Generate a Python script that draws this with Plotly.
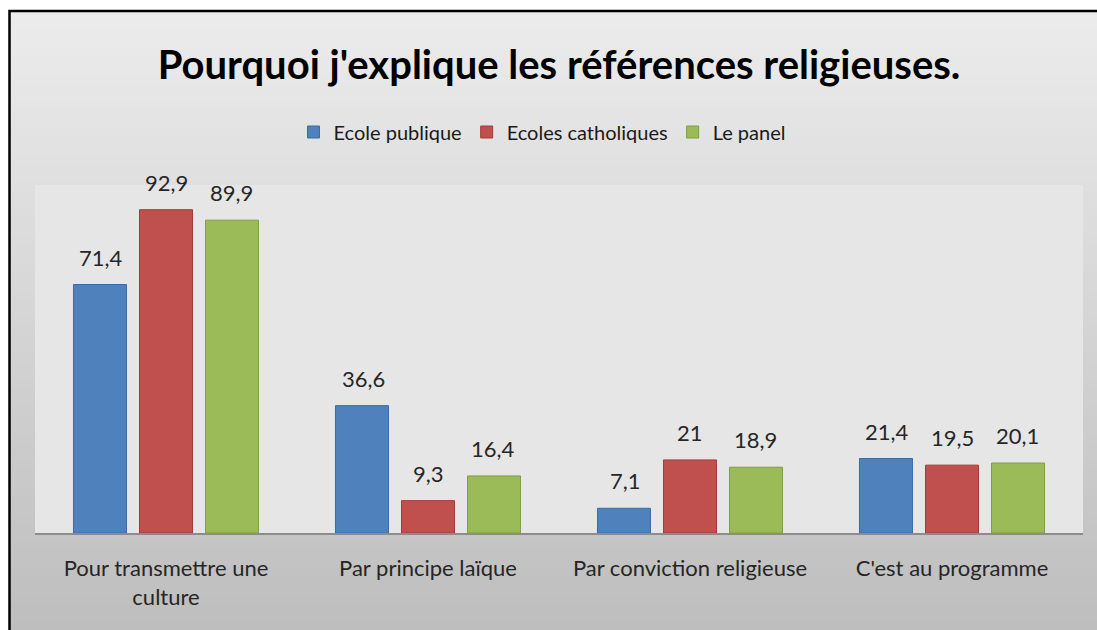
import plotly.graph_objects as go

categories = ["Pour transmettre une<br>culture", "Par principe laïque",
              "Par conviction religieuse", "C'est au programme"]
series_names = ["Ecole publique", "Ecoles catholiques", "Le panel"]
ecole_publique = [71.4, 36.6, 7.1, 21.4]
ecoles_catholiques = [92.9, 9.3, 21.0, 19.5]
le_panel = [89.9, 16.4, 18.9, 20.1]
title_text = "Pourquoi j'explique les références religieuses."

fills = ["#4F81BD", "#C0504D", "#9BBB59"]
lines = ["#3A6BA5", "#A23C39", "#7E9E44"]
FONT = "Lato"

W, H = 1097, 630
ML, MR, MT, MB = 35, 14, 185, 97
pw, ph = W - ML - MR, H - MT - MB

def px2x(px):
    return (px - ML) / pw

def py2y(py):
    return (H - MB - py) / ph

fig = go.Figure()
all_series = [ecole_publique, ecoles_catholiques, le_panel]
for name, vals, fc, lc in zip(series_names, all_series, fills, lines):
    fig.add_trace(go.Bar(
        x=categories, y=vals, name=name,
        marker=dict(color=fc, line=dict(color=lc, width=1)),
        hoverinfo="skip",
    ))

def fmt(v):
    return f"{v:g}".replace(".", ",")

offsets = [-65, 0, 65]
annotations = []
for vals, off in zip(all_series, offsets):
    for c, v in zip(categories, vals):
        annotations.append(dict(
            x=c, y=v, xref="x", yref="y", text=fmt(v), showarrow=False,
            xshift=off, yshift=12, yanchor="bottom",
            font=dict(family=FONT, size=22, color="#262626"),
        ))

shapes = []
# outer gradient background (stacked bands, each reaching the bottom to avoid seams)
n = 70
top_px, bot_px = 11, 640
c0, c1 = 236, 189
for i in range(n):
    y0p = top_px + (bot_px - top_px) * i / n
    g = round(c0 + (c1 - c0) * (i + 0.5) / n)
    col = f"rgb({g},{g},{g})"
    shapes.append(dict(type="rect", xref="paper", yref="paper", layer="below",
                       x0=px2x(10), x1=px2x(1110), y0=py2y(bot_px), y1=py2y(y0p),
                       fillcolor=col, line=dict(width=0)))
# plot area
shapes.append(dict(type="rect", xref="paper", yref="paper", layer="below",
                   x0=0, x1=1, y0=0, y1=1, fillcolor="#E6E6E6", line=dict(width=0)))
# border
shapes.append(dict(type="rect", xref="paper", yref="paper", layer="above",
                   x0=px2x(9.5), x1=px2x(1120), y0=py2y(660), y1=py2y(11),
                   fillcolor="rgba(0,0,0,0)", line=dict(color="#000000", width=2.5)))

fig.update_layout(
    width=W, height=H,
    margin=dict(l=ML, r=MR, t=MT, b=MB),
    paper_bgcolor="#FFFFFF",
    plot_bgcolor="rgba(0,0,0,0)",
    barmode="group", bargap=0.244, bargroupgap=0.197,
    separators=",.",
    title=dict(text="<b>" + title_text + "</b>", x=0.5, xref="paper", xanchor="center",
               y=1 - 65 / H, yanchor="middle", yref="container",
               font=dict(family=FONT, size=40, color="#000000")),
    legend=dict(orientation="h", x=px2x(542), xanchor="center", y=py2y(132), yanchor="middle",
                bgcolor="rgba(0,0,0,0)", font=dict(family=FONT, size=20, color="#1a1a1a"),
                itemwidth=30, traceorder="normal"),
    xaxis=dict(showgrid=False, showline=True, linecolor="#8C8C8C", linewidth=1.5,
               ticks="", ticklabelstandoff=15,
               tickfont=dict(family=FONT, size=22, color="#262626"),
               fixedrange=True),
    yaxis=dict(range=[0, 100], visible=False, fixedrange=True),
    annotations=annotations,
    shapes=shapes,
    showlegend=True,
)

fig.write_html("out.html",
               config={"displayModeBar": False},
               post_script="document.body.style.margin='0';document.body.style.overflow='hidden';")
